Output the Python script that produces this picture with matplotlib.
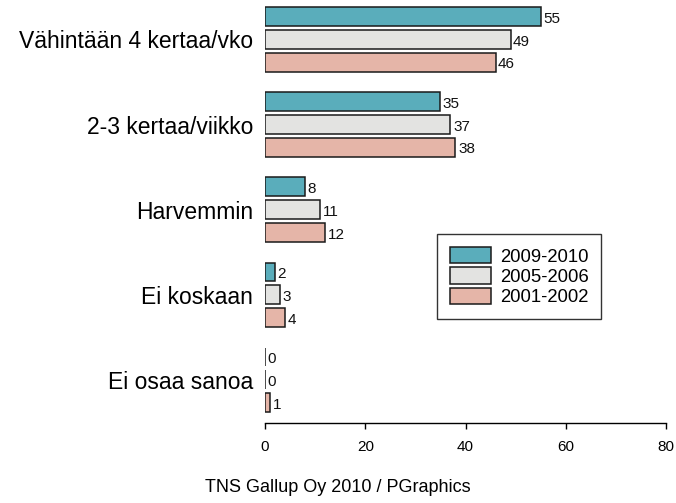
import numpy as np
import matplotlib.pyplot as plt
from matplotlib.patches import Patch

plt.rcParams['font.family'] = ['Liberation Sans', 'DejaVu Sans']

categories = ["Vähintään 4 kertaa/vko", "2-3 kertaa/viikko", "Harvemmin",
              "Ei koskaan", "Ei osaa sanoa"]
series_names = ["2009-2010", "2005-2006", "2001-2002"]
v_2009 = [55, 35, 8, 2, 0]
v_2005 = [49, 37, 11, 3, 0]
v_2001 = [46, 38, 12, 4, 1]
colors = ["#5aadbb", "#e3e3e1", "#e5b5a8"]
x_ticks = [0, 20, 40, 60, 80]
source = "TNS Gallup Oy 2010 / PGraphics"

W, H = 676, 503
fig = plt.figure(figsize=(W / 100, H / 100), dpi=100)
# axes: x 0..80 spans px 265..666, y spans px 0..423
ax = fig.add_axes([265 / W, 1 - 423 / H, (666 - 265) / W, 423 / H])

group_pitch = 4.5
bar_pitch = 1.2
centers = np.arange(len(categories)) * group_pitch
for j, (vals, col) in enumerate(zip([v_2009, v_2005, v_2001], colors)):
    y = centers + (j - 1) * bar_pitch
    ax.barh(y, vals, height=1.0, color=col, edgecolor="#1a1a1a", linewidth=1.1)
    for yy, v in zip(y, vals):
        ax.text(v + 0.5, yy + 0.12, str(v), va="center", ha="left", fontsize=11, color="#111111")

px = 1 / 18.9
ax.set_ylim(centers[0] + (423 - 39.5) * px, centers[0] - 39.5 * px)
ax.set_xlim(0, 80)

ax.set_yticks(centers)
ax.set_yticklabels(categories, fontsize=16.5)
ax.tick_params(axis="y", length=0, pad=8.5)
ax.set_xticks(x_ticks)
ax.tick_params(axis="x", direction="out", length=4.5, width=1, labelsize=11, pad=7.5)

for s in ["left", "right", "top"]:
    ax.spines[s].set_visible(False)
ax.spines["bottom"].set_bounds(0, 80)
ax.spines["bottom"].set_linewidth(1)

handles = [Patch(facecolor=c, edgecolor="#1a1a1a", linewidth=1.1) for c in colors]
leg = fig.legend(handles, series_names, loc="upper left",
                 bbox_to_anchor=(437 / W, 1 - 234 / H), bbox_transform=fig.transFigure,
                 fontsize=13.3, frameon=True, fancybox=False, edgecolor="black",
                 handlelength=2.2, handleheight=1.0, labelspacing=0.1,
                 borderpad=0.7, handletextpad=0.5, borderaxespad=0)
leg.get_frame().set_linewidth(1)

fig.text(338 / W, 1 - 488 / H, source, ha="center", va="center", fontsize=13)

fig.savefig("out.png", dpi=100)
